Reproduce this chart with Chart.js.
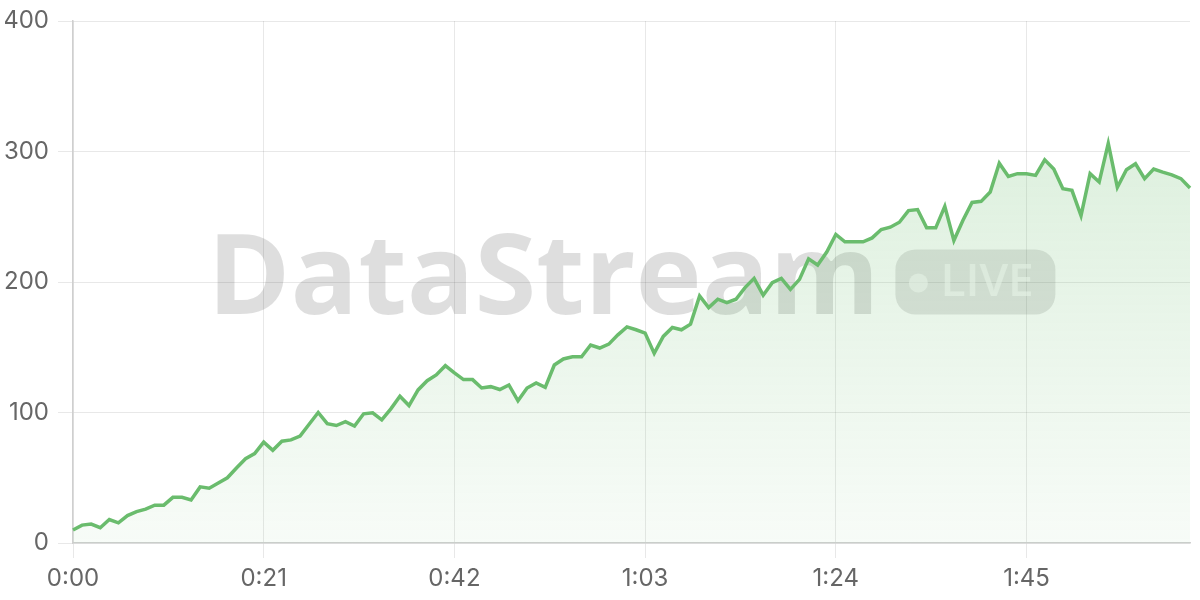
<!DOCTYPE html>
<html>
<head>
<meta charset="utf-8">
<title>DataStream live</title>
<script src="https://cdn.jsdelivr.net/npm/chart.js@4.4.1/dist/chart.umd.min.js"></script>
<style>
    html, body { margin: 0; padding: 0; background: #ffffff; }
    #wrap { width: 1200px; height: 600px; position: relative; }
</style>
</head>
<body>
<div id="wrap"><canvas id="liveChart"></canvas></div>
<script>
const seconds = Array.from({ length: 124 }, (_, i) => i);
const streamValues = [
    10, 13.7, 14.5, 11.7, 18, 15.5, 21, 24, 26, 29,
    29, 35, 35, 33, 43, 42, 46, 50, 57.5, 64.6,
    68.5, 77.3, 71, 78, 79, 82, 91, 100, 91.4, 90,
    93, 89.6, 99, 99.8, 94.4, 102.8, 112.5, 105.3, 117.3, 124.4,
    128.8, 135.9, 130.3, 125.2, 125.2, 118.8, 119.8, 117.6, 121.1, 109,
    118.8, 122.7, 119.3, 136.4, 141, 142.7, 142.7, 151.7, 149.4, 152.4,
    159.5, 165.6, 163.4, 160.8, 145.3, 158.3, 165.1, 163.4, 167.7, 189.3,
    180.4, 186.8, 184.2, 186.8, 195.7, 202.8, 189.9, 199.5, 202.8, 194.4,
    202, 217.8, 213, 223, 236.4, 230.8, 230.8, 230.8, 233.8, 240.2,
    242, 245.8, 254.7, 255.5, 241.5, 241.5, 258, 231.8, 247.3, 261,
    261.8, 268.9, 291, 280.9, 283, 283, 281.7, 293.6, 286.5, 271.5,
    270.2, 250.9, 283, 276.6, 306.3, 272.5, 286, 290.6, 279.2, 286.5,
    284.2, 282.1, 279.2, 272
];
const labelEvery = 21;      // only every 21st second gets a label + grid line
const yTicks = [0, 100, 200, 300, 400];

const fmtTime = (s) => Math.floor(s / 60) + ':' + String(s % 60).padStart(2, '0');
const timeLabels = seconds.map(fmtTime);

const LINE = 'rgb(106, 188, 109)';
const GRID = 'rgba(0, 0, 0, 0.09)';
const TICK_FONT = { family: 'Inter, "Noto Sans", sans-serif', size: 24, lineHeight: 1 };

// Watermark: big "DataStream" + a LIVE pill, centred on the plot area
const watermark = {
    id: 'watermark',
    beforeDatasetsDraw(chart) {
        const { ctx, chartArea } = chart;
        const cx = (chartArea.left + chartArea.right) / 2;
        const cy = (chartArea.top + chartArea.bottom) / 2;
        const pillW = 160, pillH = 65, gap = 16;

        ctx.save();
        ctx.font = 'bold 112px "Open Sans", "Noto Sans", sans-serif';
        const tw = ctx.measureText('DataStream').width;
        const x0 = cx - (tw + gap + pillW) / 2;

        ctx.fillStyle = 'rgba(0, 0, 0, 0.13)';
        ctx.textBaseline = 'alphabetic';
        ctx.fillText('DataStream', x0, cy + 32);

        // pill
        const px = x0 + tw + gap, py = cy - pillH / 2;
        ctx.beginPath();
        ctx.roundRect(px, py, pillW, pillH, 20);
        ctx.fillStyle = 'rgba(0, 0, 0, 0.11)';
        ctx.fill();

        ctx.fillStyle = 'rgba(255, 255, 255, 0.55)';
        ctx.beginPath();
        ctx.arc(px + 23, cy + 1, 9.5, 0, Math.PI * 2);
        ctx.fill();

        ctx.font = '600 46px "Open Sans", "Noto Sans", sans-serif';
        ctx.textBaseline = 'middle';
        ctx.fillText('LIVE', px + 45, cy + 1);
        ctx.restore();
    }
};

const ctx = document.getElementById('liveChart').getContext('2d');

new Chart(ctx, {
    type: 'line',
    data: {
        labels: timeLabels,
        datasets: [{
            data: streamValues,
            borderColor: LINE,
            borderWidth: 3.5,
            pointRadius: 0,
            tension: 0,
            fill: 'origin',
            backgroundColor: (c) => {
                const area = c.chart.chartArea;
                if (!area) return 'rgba(106, 188, 109, 0.15)';
                const g = c.chart.ctx.createLinearGradient(0, area.top, 0, area.bottom);
                g.addColorStop(0, 'rgba(106, 188, 109, 0.28)');
                g.addColorStop(1, 'rgba(106, 188, 109, 0.05)');
                return g;
            }
        }]
    },
    options: {
        responsive: true,
        maintainAspectRatio: false,
        animation: false,
        layout: { padding: { top: 17, right: 10, bottom: 0, left: 5 } },
        plugins: {
            legend: { display: false },
            tooltip: { enabled: false }
        },
        scales: {
            x: {
                // fixed band under the plot so the axis sits where the original does
                afterFit: (scale) => { scale.height = 57; },
                grid: { color: GRID, tickLength: 15 },
                border: { color: '#cfcfcf', width: 1.5 },
                ticks: {
                    autoSkip: false,
                    maxRotation: 0,
                    padding: 9,
                    color: '#666',
                    font: TICK_FONT,
                    callback: (val, i) => (i % labelEvery === 0 ? timeLabels[i] : null)
                }
            },
            y: {
                min: yTicks[0],
                max: yTicks[yTicks.length - 1],
                afterFit: (scale) => { scale.width = 68; },
                grid: { color: GRID, tickLength: 15 },
                border: { color: '#cfcfcf', width: 1.5 },
                ticks: {
                    stepSize: 100,
                    padding: 9,
                    color: '#666',
                    font: TICK_FONT
                }
            }
        }
    },
    plugins: [watermark]
});
</script>
</body>
</html>
